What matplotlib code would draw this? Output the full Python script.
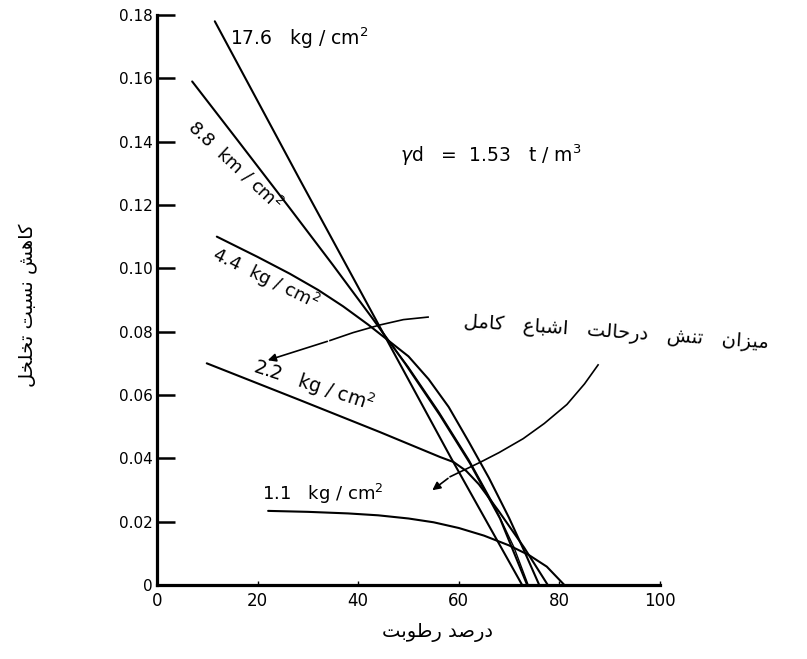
import matplotlib
matplotlib.use("Agg")
import matplotlib.pyplot as plt

# moisture (%) vs reduction of void ratio, one curve per stress level
x_176 = [11.5, 28.4, 44.3, 58.5, 72.6]
y_176 = [0.178, 0.128, 0.0815, 0.040, 0.0]

x_88 = [7.0, 16.0, 26.4, 35.0, 42.7, 49.3, 56.3, 62.2, 68.2, 73.6]
y_88 = [0.159, 0.1405, 0.119, 0.101, 0.0845, 0.070, 0.0535, 0.0385, 0.021, 0.0]

# second trace that runs beside the 8.8 curve near saturation
x_88b = [44.5, 50.0, 56.0, 62.0, 67.0, 71.0, 73.8]
y_88b = [0.0805, 0.0688, 0.0548, 0.0396, 0.0252, 0.0118, 0.0]

x_44 = [11.9, 20.0, 26.4, 32.0, 37.0, 42.0, 46.0, 50.0, 54.0, 58.0, 62.0, 66.0, 70.0, 73.0, 76.0]
y_44 = [0.110, 0.1036, 0.0983, 0.0932, 0.088, 0.0822, 0.0772, 0.0722, 0.065, 0.0562, 0.0452,
        0.0338, 0.0212, 0.0108, 0.0]

x_22 = [9.9, 28.4, 44.3, 56.3, 59.0, 61.5, 64.0, 68.0, 73.0, 77.7]
y_22 = [0.070, 0.0584, 0.0483, 0.0404, 0.0388, 0.036, 0.0318, 0.0232, 0.0118, 0.0]

x_11 = [22.1, 30.0, 38.0, 44.0, 50.0, 55.0, 60.0, 65.0, 70.0, 74.0, 77.5, 81.0]
y_11 = [0.0234, 0.0231, 0.0226, 0.022, 0.021, 0.0198, 0.018, 0.0156, 0.0125, 0.0094, 0.0058, 0.0]

# leader curves for the saturation note
arr1_x = [53.9, 49.0, 44.3, 39.0, 34.4, 21.5]
arr1_y = [0.0846, 0.0838, 0.0821, 0.0797, 0.0772, 0.0707]
arr2_x = [87.7, 85.0, 81.5, 77.0, 72.8, 68.0, 64.2, 60.0, 58.3, 54.3]
arr2_y = [0.0695, 0.0635, 0.057, 0.051, 0.0462, 0.0418, 0.0387, 0.0355, 0.0342, 0.0294]

xticks = [0, 20, 40, 60, 80, 100]
yticks = [0, 0.02, 0.04, 0.06, 0.08, 0.10, 0.12, 0.14, 0.16, 0.18]
ytick_labels = ['0', '0.02', '0.04', '0.06', '0.08', '0.10', '0.12', '0.14', '0.16', '0.18']

curves = [(x_176, y_176), (x_88, y_88), (x_44, y_44), (x_22, y_22), (x_11, y_11)]


# minimal Persian shaping (matplotlib has no bidi / joining support)
FORMS = {
    'ا': ('\uFE8D', '\uFE8E'),
    'د': ('\uFEA9', '\uFEAA'),
    'ر': ('\uFEAD', '\uFEAE'),
    'ز': ('\uFEAF', '\uFEB0'),
    'و': ('\uFEED', '\uFEEE'),
    'ب': ('\uFE8F', '\uFE90', '\uFE91', '\uFE92'),
    'ت': ('\uFE95', '\uFE96', '\uFE97', '\uFE98'),
    'ح': ('\uFEA1', '\uFEA2', '\uFEA3', '\uFEA4'),
    'خ': ('\uFEA5', '\uFEA6', '\uFEA7', '\uFEA8'),
    'س': ('\uFEB1', '\uFEB2', '\uFEB3', '\uFEB4'),
    'ش': ('\uFEB5', '\uFEB6', '\uFEB7', '\uFEB8'),
    'ص': ('\uFEB9', '\uFEBA', '\uFEBB', '\uFEBC'),
    'ط': ('\uFEC1', '\uFEC2', '\uFEC3', '\uFEC4'),
    'ع': ('\uFEC9', '\uFECA', '\uFECB', '\uFECC'),
    'ل': ('\uFEDD', '\uFEDE', '\uFEDF', '\uFEE0'),
    'م': ('\uFEE1', '\uFEE2', '\uFEE3', '\uFEE4'),
    'ن': ('\uFEE5', '\uFEE6', '\uFEE7', '\uFEE8'),
    'ه': ('\uFEE9', '\uFEEA', '\uFEEB', '\uFEEC'),
    'ک': ('\uFB8E', '\uFB8F', '\uFB90', '\uFB91'),
    'ی': ('\uFBFC', '\uFBFD', '\uFBFE', '\uFBFF'),
}


def fa(text):
    out = []
    for i, ch in enumerate(text):
        if ch not in FORMS:
            out.append(ch)
            continue
        prev = text[i - 1] if i > 0 else ''
        nxt = text[i + 1] if i + 1 < len(text) else ''
        join_prev = prev in FORMS and len(FORMS[prev]) == 4
        join_next = nxt in FORMS and len(FORMS[ch]) == 4
        f = FORMS[ch]
        if join_prev and join_next:
            out.append(f[3])
        elif join_prev:
            out.append(f[1])
        elif join_next:
            out.append(f[2])
        else:
            out.append(f[0])
    return ''.join(out)[::-1]


FA_FONT = ['DejaVu Sans', 'Noto Sans']

fig = plt.figure(figsize=(8.07, 6.59), dpi=100)
ax = fig.add_axes([0.1945, 0.1123, 0.6233, 0.865])

for cx, cy in curves:
    ax.plot(cx, cy, color='black', lw=1.5, solid_capstyle='round', solid_joinstyle='round')
ax.plot(x_88b, y_88b, color='black', lw=1.0, solid_joinstyle='round')

# leader lines with arrow heads
ax.plot(arr1_x[:-1], arr1_y[:-1], color='black', lw=1.2, solid_joinstyle='round')
ax.annotate('', xy=(arr1_x[-1], arr1_y[-1]), xytext=(arr1_x[-2], arr1_y[-2]),
            arrowprops=dict(arrowstyle='-|>', color='black', lw=1.2, mutation_scale=12))
ax.plot(arr2_x[:-1], arr2_y[:-1], color='black', lw=1.2, clip_on=False, solid_joinstyle='round')
ax.annotate('', xy=(arr2_x[-1], arr2_y[-1]), xytext=(arr2_x[-2], arr2_y[-2]),
            arrowprops=dict(arrowstyle='-|>', color='black', lw=1.2, mutation_scale=12))

# curve labels
ax.text(14.5, 0.1727, '17.6   kg / cm$^2$', fontsize=13.5, va='center', ha='left')
ax.text(15.5, 0.1326, '8.8  km / cm$^2$', fontsize=13, va='center', ha='center',
        rotation=-43, rotation_mode='anchor')
ax.text(21.5, 0.0969, '4.4  kg / cm$^2$', fontsize=13, va='center', ha='center',
        rotation=-26, rotation_mode='anchor')
ax.text(31.2, 0.0632, '2.2   kg / cm$^2$', fontsize=13.5, va='center', ha='center',
        rotation=-18, rotation_mode='anchor')
ax.text(20.9, 0.0287, '1.1   kg / cm$^2$', fontsize=13, va='center', ha='left')
ax.text(48.3, 0.1358, r'$\gamma$d   =  1.53   t / m$^3$', fontsize=13.5, va='center', ha='left')

ax.text(91.3, 0.0796, fa('میزان   تنش   درحالت   اشباع   کامل'), fontsize=14, family=FA_FONT,
        va='center', ha='center', rotation=-4, rotation_mode='anchor', clip_on=False)

ax.set_xlim(0, 100)
ax.set_ylim(0, 0.18)
ax.set_xticks(xticks)
ax.set_xticklabels([str(t) for t in xticks], fontsize=12)
ax.set_yticks(yticks)
ax.set_yticklabels(ytick_labels, fontsize=11)
ax.tick_params(axis='y', direction='in', length=13, width=1.8, pad=3)
ax.tick_params(axis='x', direction='in', length=3, width=1.0, pad=5)

for side in ['top', 'right']:
    ax.spines[side].set_visible(False)
for side in ['left', 'bottom']:
    ax.spines[side].set_linewidth(2.3)

fig.text(438 / 807, 1 - 632 / 659, fa('درصد رطوبت'), fontsize=14, family=FA_FONT,
         ha='center', va='center')
fig.text(28 / 807, 1 - 305 / 659, fa('کاهش نسبت تخلخل'), fontsize=14, family=FA_FONT,
         ha='center', va='center', rotation=90)

fig.savefig('out.png', dpi=100)
